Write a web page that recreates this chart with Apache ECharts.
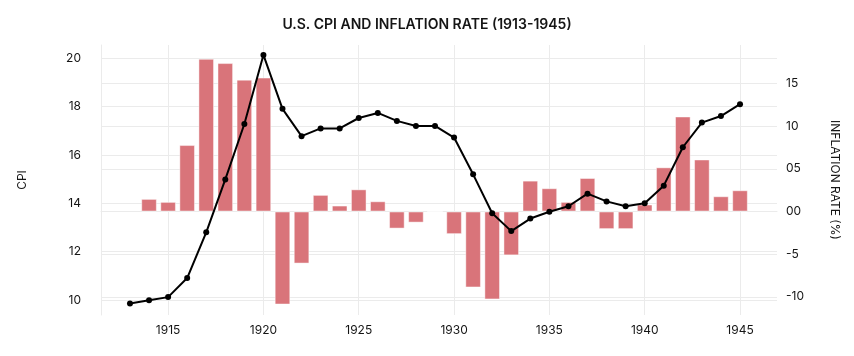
<!DOCTYPE html>
<html>
<head>
<meta charset="utf-8">
<script src="https://cdn.jsdelivr.net/npm/echarts@6/dist/echarts.min.js"></script>
<style>
html,body{margin:0;padding:0;background:#fff;}
#c{width:854px;height:356px;}
</style>
</head>
<body>
<div id="c"></div>
<script>
const years = [1913,1914,1915,1916,1917,1918,1919,1920,1921,1922,1923,1924,1925,1926,1927,1928,1929,1930,1931,1932,1933,1934,1935,1936,1937,1938,1939,1940,1941,1942,1943,1944,1945];
const cpi = [9.86,9.99,10.12,10.91,12.80,14.99,17.28,20.14,17.91,16.78,17.10,17.10,17.53,17.74,17.41,17.20,17.20,16.72,15.20,13.59,12.85,13.37,13.65,13.88,14.40,14.08,13.88,14.00,14.73,16.32,17.34,17.61,18.10];
const inflation = [null,1.48,1.13,7.79,17.9,17.4,15.46,15.7,-10.9,-6.1,1.95,0.7,2.6,1.2,-2.0,-1.3,0,-2.65,-8.9,-10.3,-5.14,3.62,2.73,1.13,3.93,-2.06,-2.06,0.82,5.18,11.14,6.1,1.79,2.49];
const xTicks = [1915,1920,1925,1930,1935,1940,1945];
const cpiTicks = [10,12,14,16,18,20];
const rateTicks = [-10,-5,0,5,10,15];

const font = 'Inter, "Noto Sans", sans-serif';
const grid = '#ebebeb';
const ink = '#151515';
const chart = echarts.init(document.getElementById('c'), null, {renderer:'canvas'});
chart.setOption({
  animation:false,
  backgroundColor:'#fff',
  title:{
    text:'U.S. CPI AND INFLATION RATE (1913-1945)',
    left:'center', top:13,
    textStyle:{fontFamily:font,fontSize:14,fontWeight:600,color:ink}
  },
  grid:{left:101,right:77,top:45,bottom:41,containLabel:false},
  xAxis:{
    type:'value', min:1911.48, max:1946.94,
    axisLine:{show:true,lineStyle:{color:grid}},
    axisTick:{show:false,customValues:xTicks},
    axisLabel:{customValues:xTicks,color:ink,fontFamily:font,fontSize:12,margin:9,formatter:v=>String(v)},
    splitLine:{show:true,lineStyle:{color:grid,width:1}}
  },
  yAxis:[{
    type:'value', min:9.38, max:20.55, position:'left',
    name:'CPI', nameLocation:'middle', nameGap:73, nameRotate:90,
    nameTextStyle:{fontFamily:font,fontSize:12,color:ink},
    axisLine:{show:true,lineStyle:{color:grid}},
    axisTick:{show:false,customValues:cpiTicks},
    axisLabel:{customValues:cpiTicks,color:ink,fontFamily:font,fontSize:12,margin:20},
    splitLine:{show:true,lineStyle:{color:grid,width:1}}
  },{
    type:'value', min:-12.13, max:19.52, position:'right',
    name:'INFLATION RATE (%)', nameLocation:'middle', nameGap:52, nameRotate:-90,
    nameTextStyle:{fontFamily:font,fontSize:12,color:ink},
    axisLine:{show:false},
    axisTick:{show:false,customValues:rateTicks},
    axisLabel:{customValues:rateTicks,color:ink,fontFamily:font,fontSize:12,margin:9,
      formatter:v=>{ if(v===0) return '00'; if(v===5) return '05'; return String(v);} },
    splitLine:{show:true,lineStyle:{color:grid,width:1}}
  }],
  series:[{
    type:'bar', yAxisIndex:1,
    data:years.map((y,i)=>[y,inflation[i]]),
    barWidth:15.6,
    itemStyle:{color:'#d9747a',borderColor:'rgba(255,255,255,0.45)',borderWidth:1},
    z:2
  },{
    type:'line', yAxisIndex:0,
    data:years.map((y,i)=>[y,cpi[i]]),
    lineStyle:{color:'#000',width:2},
    itemStyle:{color:'#000'},
    symbol:'circle', symbolSize:6, showSymbol:true,
    z:3
  }]
});
</script>
</body>
</html>
